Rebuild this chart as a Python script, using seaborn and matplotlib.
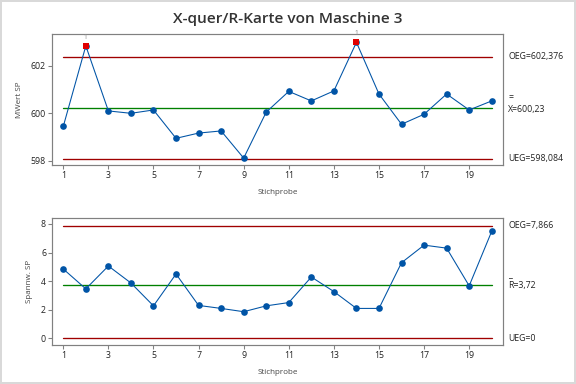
import matplotlib
matplotlib.use("Agg")
import matplotlib.pyplot as plt
import seaborn as sns
import pandas as pd
from matplotlib.patches import Rectangle

sns.set_theme(style="white")
plt.rcParams['font.family'] = ['Open Sans', 'DejaVu Sans']

# ---- data ----
samples = list(range(1, 21))
means = [599.45, 602.83, 600.10, 600.00, 600.14, 598.95, 599.17, 599.26, 598.12, 600.05,
         600.92, 600.52, 600.94, 602.98, 600.81, 599.54, 599.96, 600.81, 600.14, 600.52]
ranges = [4.85, 3.46, 5.06, 3.87, 2.27, 4.50, 2.30, 2.09, 1.86, 2.27,
          2.50, 4.29, 3.27, 2.09, 2.09, 5.29, 6.52, 6.31, 3.67, 7.49]
xbar_limits = {"OEG": 602.376, "center": 600.23, "UEG": 598.084}
r_limits = {"OEG": 7.866, "center": 3.72, "UEG": 0.0}
xbar_labels = ["OEG=602,376", "X=600,23", "UEG=598,084"]
r_labels = ["OEG=7,866", "R=3,72", "UEG=0"]
out_of_control = [2, 14]
xticks = [1, 3, 5, 7, 9, 11, 13, 15, 17, 19]
title = "X-quer/R-Karte von Maschine 3"

df = pd.DataFrame({"Stichprobe": samples, "MWert": means, "Spannw": ranges})

BLUE = "#0054A6"
RED = "#A00000"
GREEN = "#008000"
OOC = "#E00000"
SPINE = "#808080"

fig = plt.figure(figsize=(6, 4), dpi=96)
fig.patch.set_facecolor("white")
fig.add_artist(Rectangle((0, 0), 1, 1, transform=fig.transFigure, fill=False,
                         edgecolor="#D9D9D9", linewidth=3))

ax1 = fig.add_axes([52/576, 1-165/384, 451/576, (165-33.5)/384])
ax2 = fig.add_axes([52/576, 1-345/384, 451/576, (345-217.7)/384])


def style(ax):
    for s in ax.spines.values():
        s.set_color(SPINE)
        s.set_linewidth(0.9)
    ax.tick_params(axis="both", direction="out", length=3, width=0.8, color=SPINE,
                   labelsize=6.6, labelcolor="#222222", pad=1.5, left=True, bottom=True)
    ax.set_xlim(0.5, 20.5)
    ax.set_xticks(xticks)


def limits(ax, lim):
    ax.plot([1, 20], [lim["OEG"], lim["OEG"]], color=RED, lw=1.0, zorder=1)
    ax.plot([1, 20], [lim["UEG"], lim["UEG"]], color=RED, lw=1.0, zorder=1)
    ax.plot([1, 20], [lim["center"], lim["center"]], color=GREEN, lw=1.0, zorder=1)


# ---- Xbar chart ----
limits(ax1, xbar_limits)
sns.lineplot(data=df, x="Stichprobe", y="MWert", ax=ax1, color=BLUE, lw=0.8,
             marker="o", markersize=5, markeredgewidth=0, zorder=3)
ooc = df[df["Stichprobe"].isin(out_of_control)]
sns.scatterplot(data=ooc, x="Stichprobe", y="MWert", ax=ax1, color=OOC, marker="s",
                s=22, linewidth=0, zorder=4)
for _, r in ooc.iterrows():
    ax1.text(r["Stichprobe"], r["MWert"] + 0.22, "1", ha="center", va="bottom",
             fontsize=5, color="#8c8c8c", zorder=5)
style(ax1)
ax1.set_ylim(597.83, 603.35)
ax1.set_yticks([598, 600, 602])
ax1.set_xlabel("Stichprobe", fontsize=6, color="#444444", labelpad=7)
ax1.set_ylabel("MWert SP", fontsize=6, color="#444444", labelpad=6)

tr1 = ax1.get_yaxis_transform()
ax1.text(1.012, xbar_limits["OEG"], xbar_labels[0], transform=tr1, fontsize=6.6,
         va="center", ha="left", color="#222222")
ax1.text(1.012, xbar_limits["center"] - 0.05, xbar_labels[1], transform=tr1, fontsize=6.6,
         va="center", ha="left", color="#222222")
ax1.text(1.012, xbar_limits["center"] + 0.42, "=", transform=tr1, fontsize=6.6,
         va="center", ha="left", color="#222222")
ax1.text(1.012, xbar_limits["UEG"], xbar_labels[2], transform=tr1, fontsize=6.6,
         va="center", ha="left", color="#222222")

# ---- R chart ----
limits(ax2, r_limits)
sns.lineplot(data=df, x="Stichprobe", y="Spannw", ax=ax2, color=BLUE, lw=0.8,
             marker="o", markersize=5, markeredgewidth=0, zorder=3)
style(ax2)
ax2.set_ylim(-0.47, 8.44)
ax2.set_yticks([0, 2, 4, 6, 8])
ax2.set_xlabel("Stichprobe", fontsize=6, color="#444444", labelpad=7)
ax2.set_ylabel("Spannw. SP", fontsize=6, color="#444444", labelpad=6)

tr2 = ax2.get_yaxis_transform()
ax2.text(1.012, r_limits["OEG"], r_labels[0], transform=tr2, fontsize=6.6,
         va="center", ha="left", color="#222222")
ax2.text(1.012, r_limits["center"], r_labels[1], transform=tr2, fontsize=6.6,
         va="center", ha="left", color="#222222")
ax2.text(1.012, r_limits["center"] + 0.75, "_", transform=tr2, fontsize=6.6,
         va="center", ha="left", color="#222222")
ax2.text(1.012, r_limits["UEG"], r_labels[2], transform=tr2, fontsize=6.6,
         va="center", ha="left", color="#222222")

fig.text(0.5, 1 - 19/384, title, ha="center", va="center", fontsize=11.5,
         fontweight="semibold", color="#333333")

fig.savefig("out.png", dpi=96)
